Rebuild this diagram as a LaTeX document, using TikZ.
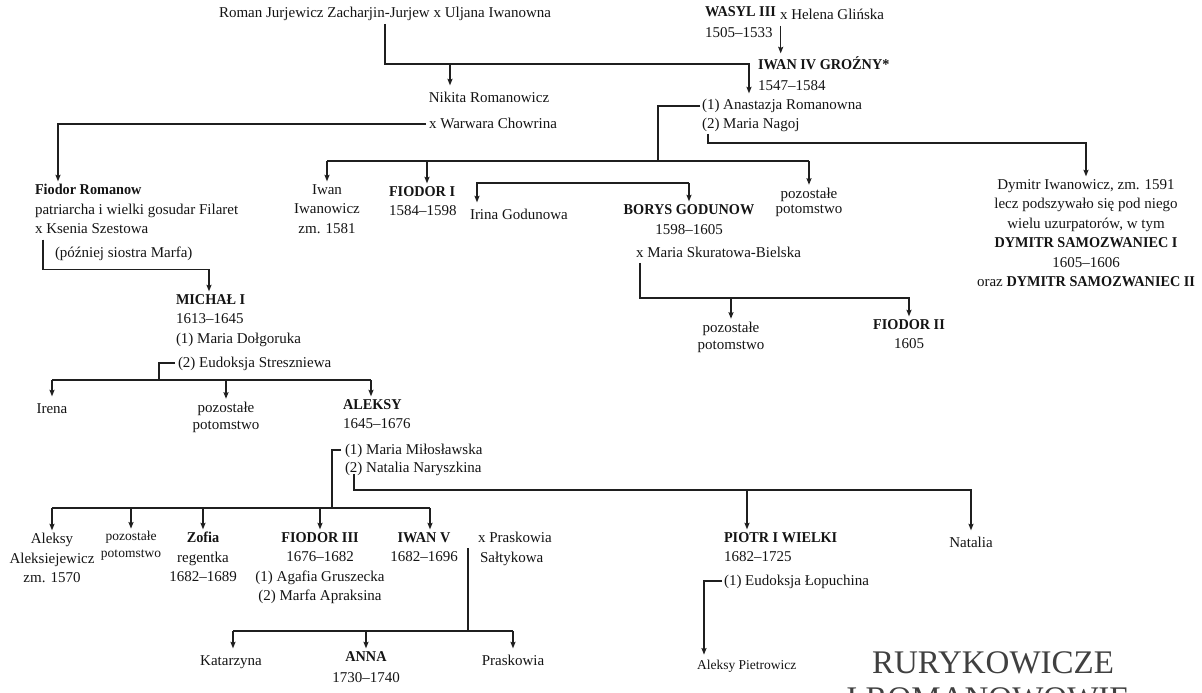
\documentclass[tikz,border=0pt]{standalone}
\usepackage{fontspec}
\setmainfont{Liberation Serif}[BoldFeatures={FakeStretch=0.95}]
\usetikzlibrary{arrows.meta}
\tikzset{
  ln/.style={line width=1.5pt, draw=black!88},
  arr/.style={ln, -{Stealth[length=6.5pt,width=5pt,inset=1pt]}, shorten >=3pt},
  tx/.style={inner sep=0pt, outer sep=0pt, text=black!92, font=\fontsize{15}{19.5}\selectfont,
     execute at begin node={\rule{0pt}{13.65pt}},
     execute at end node={\rule[-5.85pt]{0pt}{5.85pt}}, yshift=8.65pt},
  tl/.style={tx, anchor=north west, align=left},
  tc/.style={tx, anchor=north, align=center},
  pz/.style={inner sep=0pt, outer sep=0pt, text=black!92, font=\fontsize{15}{17.5}\selectfont,
     execute at begin node={\rule{0pt}{12.25pt}},
     execute at end node={\rule[-5.25pt]{0pt}{5.25pt}}, yshift=7.25pt, anchor=north, align=center},
  sm/.style={inner sep=0pt, outer sep=0pt, text=black!92, font=\fontsize{13.5}{17}\selectfont,
     execute at begin node={\rule{0pt}{11.9pt}},
     execute at end node={\rule[-5.1pt]{0pt}{5.1pt}}, yshift=7.4pt, anchor=north, align=center},
  ttl/.style={inner sep=0pt, anchor=base, font=\fontsize{33}{36}\selectfont, text=black!75}
}
\begin{document}
\begin{tikzpicture}[x=1pt,y=-1pt]
\path[use as bounding box] (0,0) rectangle (1202,693);
\clip (0,0) rectangle (1202,693);

% ---------- nodes ----------
\node[tc] (roman) at (385,13) {Roman Jurjewicz Zacharjin-Jurjew x Uljana Iwanowna};
\node[tl] (wasyl) at (705,15) {\textbf{WASYL III}\\[2pt]1505–1533};
\node[tl] (helena) at (780,15) {x Helena Glińska};
\node[tl] (iwan) at (758,65) {\textbf{IWAN IV GROŹNY*}\\[2pt]1547–1584};
\node[tl] (anast) at (702,105) {(1) Anastazja Romanowna};
\node[tl] (nagoj) at (702,123) {(2) Maria Nagoj};
\node[tc] (nikita) at (489,97) {Nikita Romanowicz};
\node[tc] (warwara) at (493,123) {x Warwara Chowrina};

\node[tl] (fiodor) at (35,193) {\textbf{Fiodor Romanow}\\patriarcha i wielki gosudar Filaret\\x Ksenia Szestowa};
\node[tl] (marfa) at (55,252) {(później siostra Marfa)};
\node[tc] (iwaniw) at (327,193) {Iwan\\Iwanowicz\\zm. 1581};
\node[tl] (fiodorI) at (389,195) {\textbf{FIODOR I}\\1584–1598};
\node[tl] (irina) at (470,214) {Irina Godunowa};
\node[tc] (borys) at (689,213) {\textbf{BORYS GODUNOW}\\[1pt]1598–1605};
\node[tl] (skur) at (636,252) {x Maria Skuratowa-Bielska};
\node[pz] (poz1) at (809,195) {pozostałe\\[-2pt]potomstwo};
\node[tc] (dymitr) at (1086,188) {Dymitr Iwanowicz, zm. 1591\\lecz podszywało się pod niego\\wielu uzurpatorów, w tym\\\textbf{DYMITR SAMOZWANIEC I}\\1605–1606\\oraz \textbf{DYMITR SAMOZWANIEC II}};
\node[pz] (poz2) at (731,329) {pozostałe\\potomstwo};
\node[tc] (fiodorII) at (909,328) {\textbf{FIODOR II}\\1605};

\node[tl] (michal) at (176,303) {\textbf{MICHAŁ I}\\1613–1645\\(1) Maria Dołgoruka};
\node[tl] (michal2) at (178,362) {(2) Eudoksja Streszniewa};
\node[tc] (irena) at (52,408) {Irena};
\node[pz] (poz3) at (226,409) {pozostałe\\potomstwo};
\node[tl] (aleksy) at (343,408) {\textbf{ALEKSY}\\1645–1676};
\node[tl] (aleksy1) at (345,449) {(1) Maria Miłosławska};
\node[tl] (aleksy2) at (345,467) {(2) Natalia Naryszkina};

\node[tc] (aleksyA) at (52,542) {Aleksy\\Aleksiejewicz\\zm. 1570};
\node[sm] (poz4) at (131,539) {pozostałe\\potomstwo};
\node[tc] (zofia) at (203,541) {\textbf{Zofia}\\regentka\\1682–1689};
\node[tc] (fiodor3) at (320,541) {\textbf{FIODOR III}\\1676–1682\\(1) Agafia Gruszecka\\(2) Marfa Apraksina};
\node[tc] (iwan5) at (424,541) {\textbf{IWAN V}\\1682–1696};
\node[tl] (prask) at (478,541) {x Praskowia\\\hspace{2pt}Sałtykowa};
\node[tl] (piotr) at (724,541) {\textbf{PIOTR I WIELKI}\\1682–1725};
\node[tl] (piotrw) at (724,580) {(1) Eudoksja Łopuchina};
\node[tc] (natalia) at (971,542) {Natalia};
\node[tc] (katarzyna) at (231,660) {Katarzyna};
\node[tc] (anna) at (366,660) {\textbf{ANNA}\\[2pt]1730–1740};
\node[tc] (praskowia) at (513,660) {Praskowia};
\node[sm, anchor=north west] (aleksyP) at (697,665) {Aleksy Pietrowicz};

\node[ttl] (title1) at (993,673) {RURYKOWICZE};
\node[ttl] (title2) at (988,709) {I ROMANOWOWIE};

% ---------- connectors ----------
% Roman -> Anastazja, Nikita
\draw[arr] (roman.south) -- ++(0,40) coordinate (rb) -| ([xshift=47pt]anast.north west);
\coordinate (nkA) at ([xshift=-39pt]nikita.north);
\draw[arr] (nkA |- rb) -- (nkA);
% Wasyl x Helena -> Iwan IV
\coordinate (hx) at ([xshift=0.7pt]helena.south west);
\draw[arr] (hx) -- (hx |- iwan.north);
% Nikita x Warwara -> Fiodor Romanow
\draw[arr] ([xshift=-3pt]warwara.west) -| ([xshift=23pt]fiodor.north west);
% Iwan IV x Anastazja -> children
\coordinate (b1) at (658,161);
\draw[ln] ([xshift=-2pt]anast.west) -| (b1);
\draw[ln] (iwaniw.north |- b1) -- (poz1.north |- b1);
\draw[arr] (iwaniw.north |- b1) -- (iwaniw.north);
\coordinate (f1) at ([xshift=38pt]fiodorI.north west);
\draw[arr] (f1 |- b1) -- (f1);
\draw[arr] (poz1.north |- b1) -- (poz1.north);
% Iwan IV x Maria Nagoj -> Dymitr
\draw[arr] ([xshift=6pt]nagoj.south west) -- ++(0,9) -| (dymitr.north);
% Irina -- Borys (siblings)
\coordinate (b2) at ([yshift=21.35pt]borys.north);
\coordinate (ir) at ([xshift=7pt]irina.north west);
\draw[arr] (b2) -- (borys.north);
\draw[arr] (b2) -| (ir);
% Borys x Skuratowa -> children
\coordinate (sk) at ([xshift=4pt]skur.south west);
\draw[arr] (sk) -- ++(0,35) coordinate (b3) -| (fiodorII.north);
\draw[arr] (poz2.north |- b3) -- (poz2.north);
% Fiodor Romanow x Ksenia -> Michal
\coordinate (ks) at ([xshift=8pt]fiodor.south west);
\draw[arr] (ks) -- ++(0,30) -| ([xshift=33pt]michal.north west);
% Michal x Eudoksja -> children
\coordinate (b4) at (159,380);
\coordinate (al) at ([xshift=28pt]aleksy.north west);
\draw[ln] ([xshift=-3pt]michal2.west) -| (b4);
\draw[ln] (irena.north |- b4) -- (al |- b4);
\draw[arr] (irena.north |- b4) -- (irena.north);
\draw[arr] (poz3.north |- b4) -- (poz3.north);
\draw[arr] (al |- b4) -- (al);
% Aleksy x Maria -> children
\coordinate (b5) at (332,508);
\coordinate (i5) at ([xshift=6pt]iwan5.north);
\draw[ln] ([xshift=-4pt]aleksy1.west) -| (b5);
\draw[ln] (aleksyA.north |- b5) -- (i5 |- b5);
\draw[arr] (aleksyA.north |- b5) -- (aleksyA.north);
\draw[arr] (poz4.north |- b5) -- (poz4.north);
\draw[arr] (zofia.north |- b5) -- (zofia.north);
\draw[arr] (fiodor3.north |- b5) -- (fiodor3.north);
\draw[arr] (i5 |- b5) -- (i5);
% Aleksy x Natalia -> Piotr, Natalia
\coordinate (al2) at ([xshift=9pt,yshift=4pt]aleksy2.south west);
\draw[arr] (al2) -- ++(0,16) coordinate (b6) -| (natalia.north);
\coordinate (pA) at ([xshift=23pt]piotr.north west);
\draw[arr] (pA |- b6) -- (pA);
% Iwan V x Praskowia -> children
\coordinate (m5) at (468,548);
\coordinate (b7) at (468,631);
\coordinate (k1) at ([xshift=2pt]katarzyna.north);
\draw[ln] (m5) -- (b7);
\draw[ln] (k1 |- b7) -- (praskowia.north |- b7);
\draw[arr] (k1 |- b7) -- (k1);
\draw[arr] (anna.north |- b7) -- (anna.north);
\draw[arr] (praskowia.north |- b7) -- (praskowia.north);
% Piotr x Eudoksja -> Aleksy Pietrowicz
\coordinate (ap) at ([xshift=7pt]aleksyP.north west);
\draw[arr] ([xshift=-2pt]piotrw.west) -| (ap);
\end{tikzpicture}
\end{document}
